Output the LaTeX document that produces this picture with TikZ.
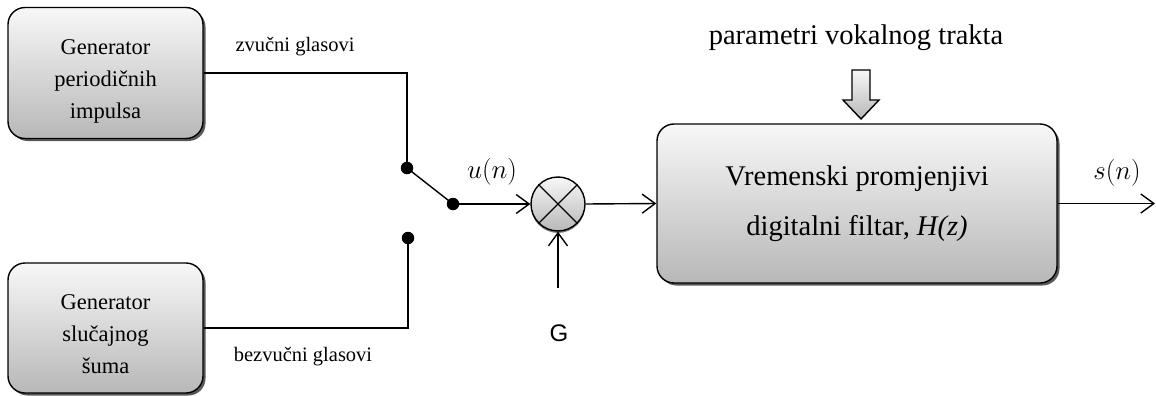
\documentclass[tikz,border=0pt]{standalone}
\usepackage{fontspec}
\setmainfont{Liberation Serif}
\newfontfamily\labelsans{Liberation Sans}
\usetikzlibrary{arrows.meta,shadows}

\tikzset{
  wire/.style={line width=1.4pt},
  sig/.style={wire, -{Straight Barb[length=13pt,width=19pt,line width=1.4pt]}},
  shadedfill/.style={top color=black!3, bottom color=black!28},
  block/.style={draw, line width=1.4pt, rounded corners=17pt, shadedfill,
    drop shadow={shadow xshift=2.5pt, shadow yshift=-2.5pt, fill=black!65, opacity=1},
    align=center, inner sep=0pt},
  contact/.style={circle, fill=black, minimum size=12.5pt, inner sep=0pt},
  smalllabel/.style={font=\fontsize{20.5}{24}\selectfont},
  gentext/.style={font=\fontsize{22.5}{31}\selectfont},
  mathlabel/.style={font=\fontsize{20.74}{24}\selectfont},
}
% three centred lines, set a little below the middle of the generator boxes
\newcommand{\genlines}[3]{\raisebox{-7pt}[\height][\depth]{\begin{tabular}{@{}c@{}}#1\\[1pt] #2\\[1pt] #3\end{tabular}}}
% enlarged signal name
\newcommand{\signame}[1]{\scalebox{1.3}{$#1$}}

\begin{document}
\begin{tikzpicture}[x=1pt,y=-1pt]
\useasboundingbox (0,0) rectangle (1156,396);

% generators
\node[block, gentext, minimum width=195pt, minimum height=131pt] (gen1) at (105.5,73)
  {\genlines{Generator}{periodičnih}{impulsa}};
\node[block, gentext, minimum width=195pt, minimum height=130pt] (gen2) at (105.5,328)
  {\genlines{Generator}{slučajnog}{šuma}};

% switch contacts
\node[contact] (ctop) at (407,168) {};
\node[contact] (cbot) at (408,238) {};
\node[contact] (arm) at (453,204) {};

% multiplier
\node[draw, circle, line width=1.4pt, minimum size=54pt, inner sep=0pt, shadedfill,
      drop shadow={shadow xshift=0pt, shadow yshift=-2pt, fill=black!50, opacity=1}]
  (mult) at (558,204) {};
\draw[wire] (mult.45) -- (mult.225) (mult.135) -- (mult.315);

% filter
\node[block, minimum width=400pt, minimum height=159pt,
      font=\fontsize{28.5}{50}\selectfont] (filt) at (857,203.5)
  {Vremenski promjenjivi\\ digitalni filtar, \textit{H(z)}};

% labels
\node[smalllabel] (lv) at (295,47) {zvučni glasovi};
\node[smalllabel] (lu) at (303,357) {bezvučni glasovi};
\node[mathlabel] (un) at (492,172) {\signame{u(n)}};
\node[mathlabel] (sn) at (1117,173) {\signame{s(n)}};
\node[font=\labelsans\fontsize{24}{28}\selectfont] (gain) at (559,333) {G};
\node[font=\fontsize{28.5}{32}\selectfont] (par) at (856,38) {parametri vokalnog trakta};

\coordinate (gin) at (558,288);
\coordinate (out) at (1155,203.5);

% connections
\draw[wire] (gen1.east) -| (ctop.center);
\draw[wire] (gen2.east) -| (cbot.center);
\draw[wire] (ctop.center) -- (arm.center);
\draw[sig] (arm.center) -- (mult.west);
\draw[sig] (mult.east) -- (filt.west);
\draw[sig] (gin) -- (mult.south);
\draw[sig] (filt.east) -- (out);

% parameter arrow
\draw[line width=1.4pt, shadedfill]
  (852,70) -- (870,70) -- (870,100) -- (879,100) -- (861,119)
  -- (843,100) -- (852,100) -- cycle;
\end{tikzpicture}
\end{document}
